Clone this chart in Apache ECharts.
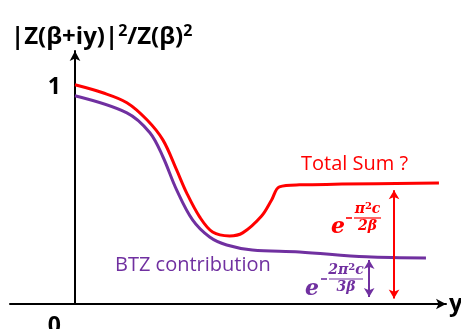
<!DOCTYPE html>
<html>
<head>
<meta charset="utf-8">
<script src="https://cdn.jsdelivr.net/npm/echarts@6/dist/echarts.min.js"></script>
<style>
  html, body { margin: 0; padding: 0; background: #fff; }
  #chart { width: 461px; height: 329px; }
</style>
</head>
<body>
<div id="chart"></div>
<script>
// curve samples (x = imaginary part y, value = |Z|^2/Z^2)
const totalX = [0, 0.75, 1.4, 1.94, 2.37, 2.74, 3.01, 3.36, 3.71, 4.17, 4.52, 5.03, 5.3, 5.51, 6.05, 9.81];
const totalY = [1.014, 0.977, 0.931, 0.852, 0.759, 0.62, 0.514, 0.403, 0.333, 0.315, 0.329, 0.407, 0.481, 0.542, 0.551, 0.56];
const btzX = [0, 1.4, 2.02, 2.37, 2.74, 3.17, 3.63, 4.09, 4.78, 6.05, 7.85, 9.46];
const btzY = [0.963, 0.884, 0.792, 0.681, 0.528, 0.389, 0.31, 0.273, 0.25, 0.241, 0.218, 0.213];
const yTicks = [0, 1];
// gap arrows: [x, from, to]
const totalGap = [8.6, 0.025, 0.526];
const btzGap = [7.93, 0.032, 0.204];

const RED = '#ff0000';
const PURPLE = '#7030a0';
const SANS = 'Open Sans';
const SERIF = 'DejaVu Serif';

const chart = echarts.init(document.getElementById('chart'));

function pairs(xs, ys) {
  return xs.map((x, i) => [x, ys[i]]);
}

function gapLine(g) {
  return [[{ coord: [g[0], g[1]] }, { coord: [g[0], g[2]] }]];
}

// fraction exponent e^{-num/den}
function expo(color, eX, eY, barX, barW, barY, num, den) {
  const font = { fontFamily: SERIF, fontWeight: 'bold', fontStyle: 'italic', fill: color };
  return {
    type: 'group',
    children: [
      { type: 'text', x: eX, y: eY, style: Object.assign({ text: 'e', fontSize: 22, verticalAlign: 'middle' }, font) },
      { type: 'rect', shape: { x: barX - 8, y: barY - 0.8, width: 6, height: 1.6 }, style: { fill: color } },
      { type: 'rect', shape: { x: barX, y: barY - 0.6, width: barW, height: 1.2 }, style: { fill: color } },
      { type: 'text', x: barX + barW / 2, y: barY - 1, style: Object.assign({
          text: num, fontSize: 14, align: 'center', verticalAlign: 'bottom',
          rich: { s: { fontSize: 10, fontFamily: SERIF, fontWeight: 'bold', fill: color, verticalAlign: 'top', padding: [0, 0, 6, 0] } }
        }, font) },
      { type: 'text', x: barX + barW / 2, y: barY + 1, style: Object.assign({ text: den, fontSize: 14, align: 'center', verticalAlign: 'top' }, font) }
    ]
  };
}

const option = {
  animation: false,
  title: {
    text: '|Z(β+iy)|{s|2}/Z(β){s|2}',
    left: 6,
    top: 18,
    textStyle: {
      fontFamily: SANS, fontSize: 24, fontWeight: 'bold', color: '#000',
      rich: { s: { fontFamily: SANS, fontSize: 16, fontWeight: 'bold', color: '#000', verticalAlign: 'top', padding: [0, 0, 12, 0] } }
    }
  },
  grid: { left: 10, right: 15, top: 51, bottom: 25, containLabel: false, outerBoundsMode: 'none' },
  xAxis: {
    type: 'value', min: -1.75, max: 10,
    axisLine: { onZero: false, symbol: ['none', 'arrow'], symbolSize: [8, 10], lineStyle: { color: '#000', width: 2 } },
    axisTick: { show: false }, axisLabel: { show: false }, splitLine: { show: false },
    name: 'y', nameGap: 3,
    nameTextStyle: { fontFamily: SANS, fontSize: 24, fontWeight: 'bold', color: '#000', verticalAlign: 'middle' }
  },
  yAxis: {
    type: 'value', min: 0, max: 1.17,
    offset: -65,
    axisLine: { onZero: false, symbol: ['none', 'arrow'], symbolSize: [8, 10], lineStyle: { color: '#000', width: 2 } },
    axisTick: { show: false }, splitLine: { show: false },
    axisLabel: {
      customValues: yTicks, margin: 14,
      fontFamily: SANS, fontSize: 23, fontWeight: 'bold', color: '#000',
      formatter: v => v === 0 ? '{z|0}' : String(v),
      rich: { z: { fontFamily: SANS, fontSize: 23, fontWeight: 'bold', color: '#000', padding: [44, 0, 0, 0] } }
    }
  },
  series: [
    {
      name: 'Total Sum ?', type: 'line', smooth: 0.35, showSymbol: false, silent: true,
      data: pairs(totalX, totalY),
      lineStyle: { color: RED, width: 3 }, itemStyle: { color: RED },
      markLine: {
        silent: true, symbol: ['arrow', 'arrow'], symbolSize: [8, 9],
        lineStyle: { color: RED, width: 2, type: 'solid' }, label: { show: false },
        data: gapLine(totalGap)
      }
    },
    {
      name: 'BTZ contribution', type: 'line', smooth: 0.35, showSymbol: false, silent: true,
      data: pairs(btzX, btzY),
      lineStyle: { color: PURPLE, width: 3 }, itemStyle: { color: PURPLE },
      markLine: {
        silent: true, symbol: ['arrow', 'arrow'], symbolSize: [8, 9],
        lineStyle: { color: PURPLE, width: 2, type: 'solid' }, label: { show: false },
        data: gapLine(btzGap)
      }
    }
  ],
  graphic: [
    { type: 'text', left: 301, top: 154, style: { text: 'Total Sum ?', fontFamily: SANS, fontSize: 20, fill: RED } },
    { type: 'text', left: 115, top: 255, style: { text: 'BTZ contribution', fontFamily: SANS, fontSize: 20, fill: PURPLE } },
    expo(RED, 331, 227, 354, 27, 218, 'π{s|2}c', '2β'),
    expo(PURPLE, 305, 289, 329, 34, 279, '2π{s|2}c', '3β')
  ]
};

chart.setOption(option);
</script>
</body>
</html>
